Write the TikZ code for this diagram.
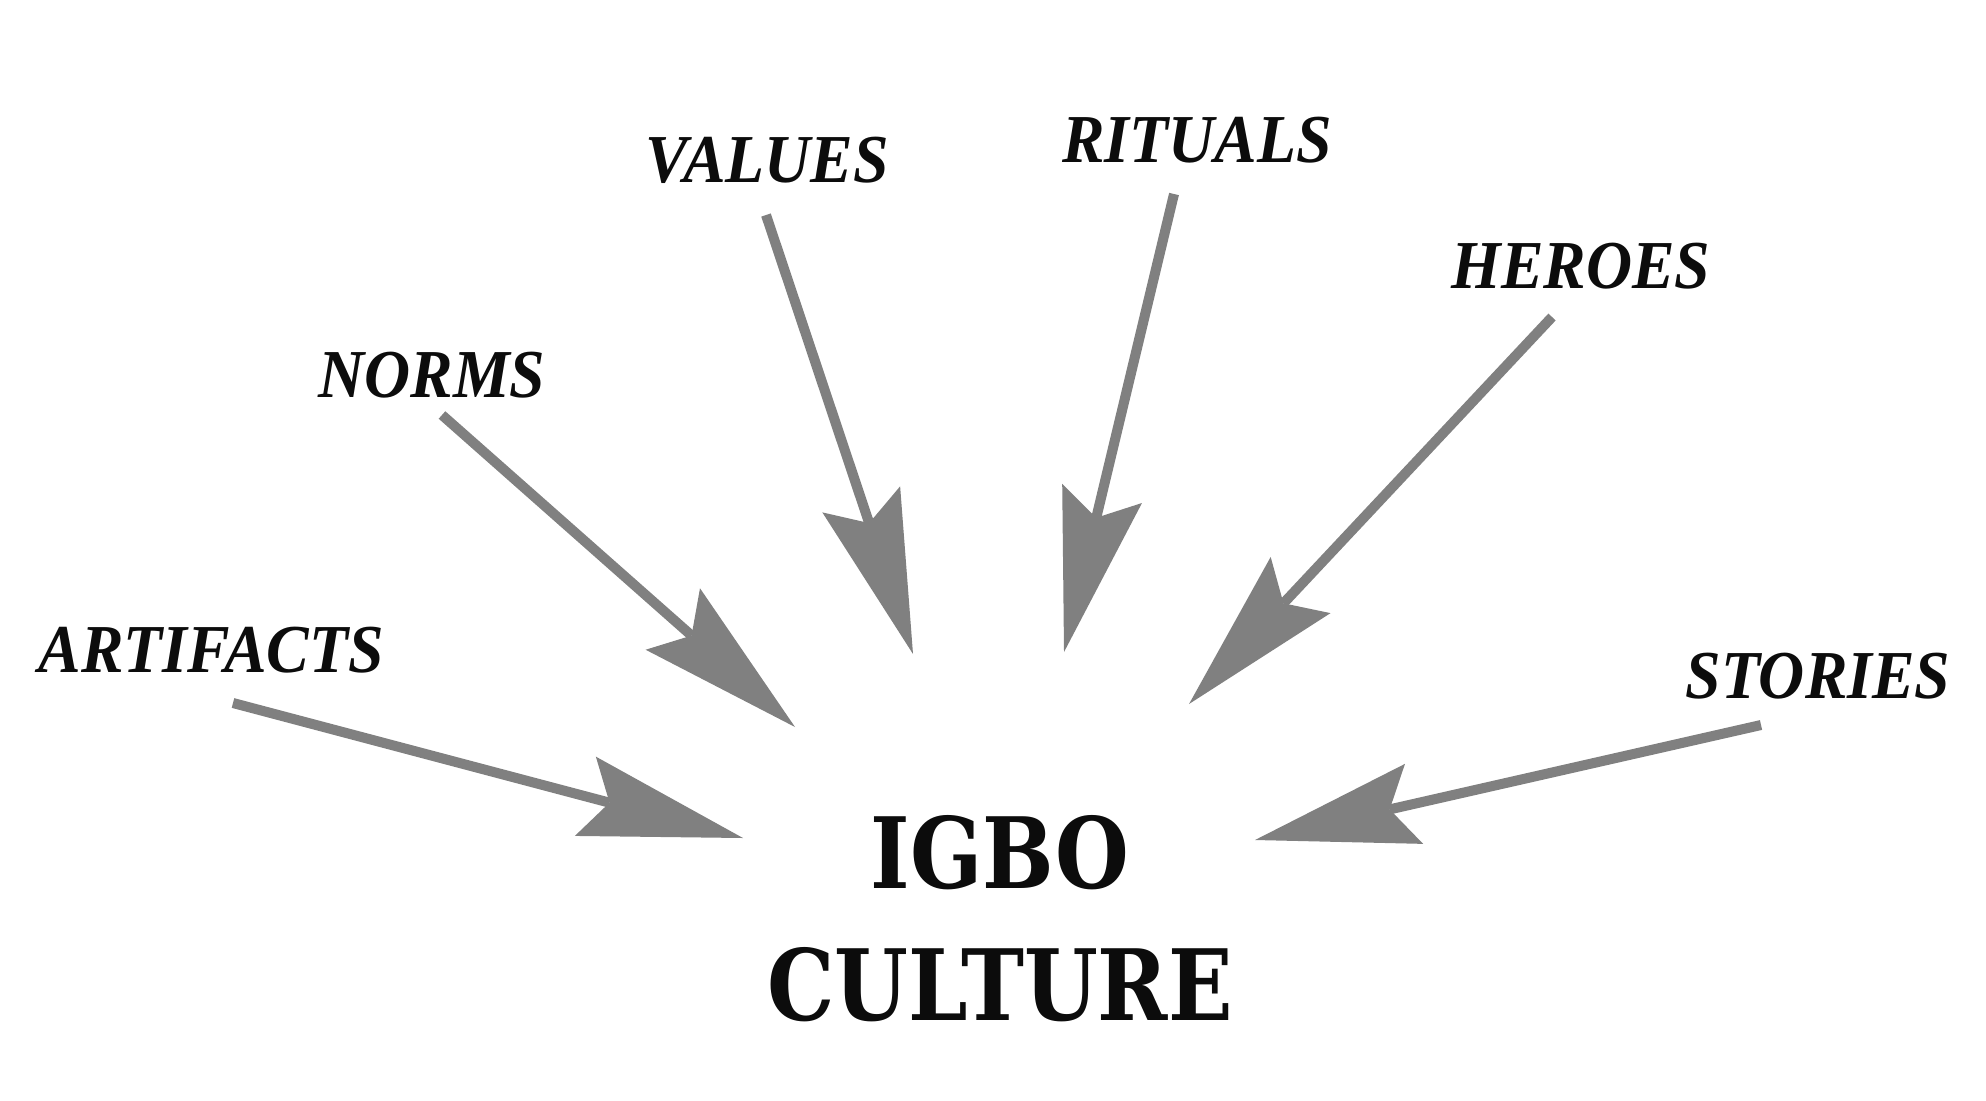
\documentclass[tikz,border=0pt]{standalone}
\usepackage{fontspec}
\usetikzlibrary{arrows.meta}
\newfontfamily\labfont{Liberation Serif}
\newfontfamily\titfont{DejaVu Serif}
\definecolor{arrowgray}{RGB}{128,128,128}
\definecolor{textblack}{RGB}{12,12,12}
\newcommand{\lbl}[1]{\scalebox{0.93}[1]{#1}}
\newcommand{\ttl}[1]{\scalebox{0.86}[1]{#1}}
\tikzset{
  lab/.style={font=\labfont\bfseries\itshape\fontsize{19.5}{22}\selectfont, text=textblack, inner sep=0pt, anchor=base},
  tit/.style={font=\titfont\bfseries\fontsize{28}{32}\selectfont, text=textblack, inner sep=0pt, anchor=base},
  bigarrow/.style={draw=arrowgray, line width=0.1cm, line cap=butt,
    -{Stealth[length=1.63cm, width=0.82cm, inset=0.25cm, line width=0pt, fill=arrowgray]}}
}
\begin{document}
\begin{tikzpicture}[x=0.01cm, y=-0.01cm]
\useasboundingbox (0,0) rectangle (1986,1100);
\fill[white] (0,0) rectangle (1986,1100);
% labels
\node[lab] (values) at (767,182) {\lbl{VALUES}};
\node[lab] (rituals) at (1197,162) {\lbl{RITUALS}};
\node[lab] (heroes) at (1581,288) {\lbl{HEROES}};
\node[lab] (norms) at (432,397) {\lbl{NORMS}};
\node[lab] (artifacts) at (211,672) {\lbl{ARTIFACTS}};
\node[lab] (stories) at (1818,698) {\lbl{STORIES}};
% centre text
\node[tit] (igbo) at (1000,888) {\ttl{IGBO}};
\node[tit] (culture) at (1000,1020) {\ttl{CULTURE}};
% arrow ends
\coordinate (sA) at (233,703);  \coordinate (tA) at (743,838);
\coordinate (sN) at (442,415);  \coordinate (tN) at (795,727);
\coordinate (sV) at (766,215);  \coordinate (tV) at (913,654);
\coordinate (sR) at (1174,194); \coordinate (tR) at (1064,652);
\coordinate (sH) at (1552,317); \coordinate (tH) at (1189,704);
\coordinate (sS) at (1761,725); \coordinate (tS) at (1255,840);
\draw[bigarrow] (sA) -- (tA);
\draw[bigarrow] (sN) -- (tN);
\draw[bigarrow] (sV) -- (tV);
\draw[bigarrow] (sR) -- (tR);
\draw[bigarrow] (sH) -- (tH);
\draw[bigarrow] (sS) -- (tS);
\end{tikzpicture}
\end{document}
